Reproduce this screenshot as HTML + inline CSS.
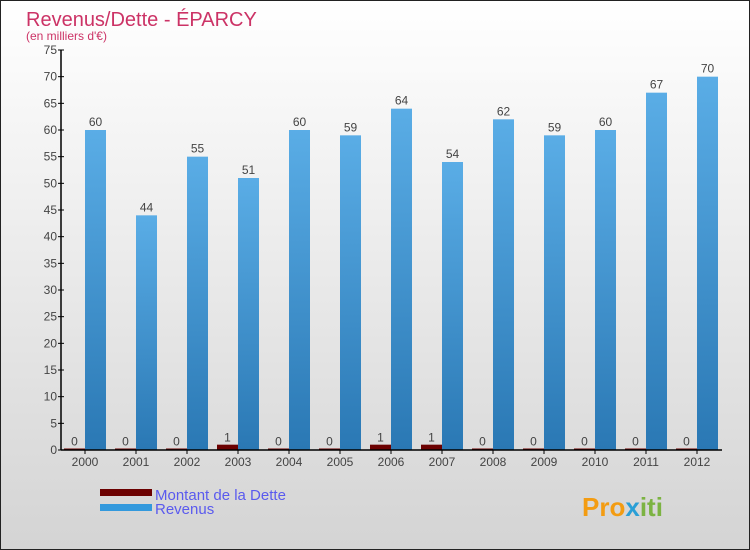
<!DOCTYPE html>
<html><head><meta charset="utf-8"><style>
body{margin:0}
svg{display:block;font-family:"Liberation Sans",sans-serif}
</style></head><body>
<svg id="c" width="750" height="550">
<defs>
<linearGradient id="bg" x1="0" y1="0" x2="0" y2="1"><stop offset="0" stop-color="#ffffff"/><stop offset="1" stop-color="#d4d4d4"/></linearGradient>
<linearGradient id="bl" x1="0" y1="0" x2="0" y2="1"><stop offset="0" stop-color="#5aade6"/><stop offset="1" stop-color="#2a78b4"/></linearGradient>
</defs>
<rect x="0.5" y="0.5" width="749" height="549" fill="url(#bg)" stroke="#222"/>
<text x="26" y="26" font-size="20" fill="#cc3366">Revenus/Dette - ÉPARCY</text>
<text x="26" y="40" font-size="12" fill="#cc3366">(en milliers d'€)</text>
<g id="bars"></g><g id="axes"></g>
<rect x="100" y="489" width="52" height="7" fill="#6b0000"/>
<rect x="100" y="504" width="52" height="7" fill="#3399dd"/>
<text x="155" y="500" font-size="15" fill="#5a5aee">Montant de la Dette</text>
<text x="155" y="514" font-size="15" fill="#5a5aee">Revenus</text>
<text x="582" y="516" font-size="26" font-weight="bold" fill="#f39c12">Pro<tspan fill="#2a9fd6">x</tspan><tspan fill="#7cb342">iti</tspan></text>
</svg>
<script>
const years=["2000","2001","2002","2003","2004","2005","2006","2007","2008","2009","2010","2011","2012"];
const debt=[0,0,0,1,0,0,1,1,0,0,0,0,0];
const revenue=[60,44,55,51,60,59,64,54,62,59,60,67,70];
const yTicks=[0,5,10,15,20,25,30,35,40,45,50,55,60,65,70,75];
const NS="http://www.w3.org/2000/svg";
const x0=61,x1=722,y0=450,yTop=50,yMax=75;
const step=51,firstC=85;
const y=v=>y0-v*(y0-yTop)/yMax;
const xc=i=>firstC+i*step;
function mk(tag,attrs,parent,txt){const e=document.createElementNS(NS,tag);for(const k in attrs)e.setAttribute(k,attrs[k]);if(txt!==undefined)e.textContent=txt;document.getElementById(parent).appendChild(e);return e;}
yTicks.forEach(t=>{
  const tk=mk("line",{x1:x0-3,x2:x0+3,y1:y(t),y2:y(t),stroke:"#000"},"axes");
  
  
  const tx=mk("text",{x:x0-4,y:y(t)+4,"font-size":12,"text-anchor":"end",fill:"#444"},"axes",t);
  
  
});
years.forEach((yr,i)=>{
  const c=xc(i);
  const dh=Math.max(y0-y(debt[i]),1.5);
  const d=mk("rect",{x:c-21,y:y0-dh,width:21,height:dh,fill:"#6b0000"},"bars");
  
  
  const r=mk("rect",{x:c,y:y(revenue[i]),width:21,height:y0-y(revenue[i]),fill:"url(#bl)"},"bars");
  
  
  const dl=mk("text",{x:c-10.5,y:y0-dh-3,"font-size":12,"text-anchor":"middle",fill:"#444"},"bars",debt[i]);
  
  
  const rl=mk("text",{x:c+10.5,y:y(revenue[i])-4,"font-size":12,"text-anchor":"middle",fill:"#444"},"bars",revenue[i]);
  
  
  const xt=mk("line",{x1:c,x2:c,y1:y0,y2:y0+4,stroke:"#000"},"axes");
  
  
  const xl=mk("text",{x:c,y:y0+16,"font-size":12,"text-anchor":"middle",fill:"#444"},"axes",yr);
  
  
});
const ya=mk("line",{x1:x0,x2:x0,y1:yTop,y2:y0,stroke:"#000","stroke-width":1.5},"axes");


const xa=mk("line",{x1:x0,x2:x1,y1:y0,y2:y0,stroke:"#000","stroke-width":1.5},"axes");


</script>
</body></html>
